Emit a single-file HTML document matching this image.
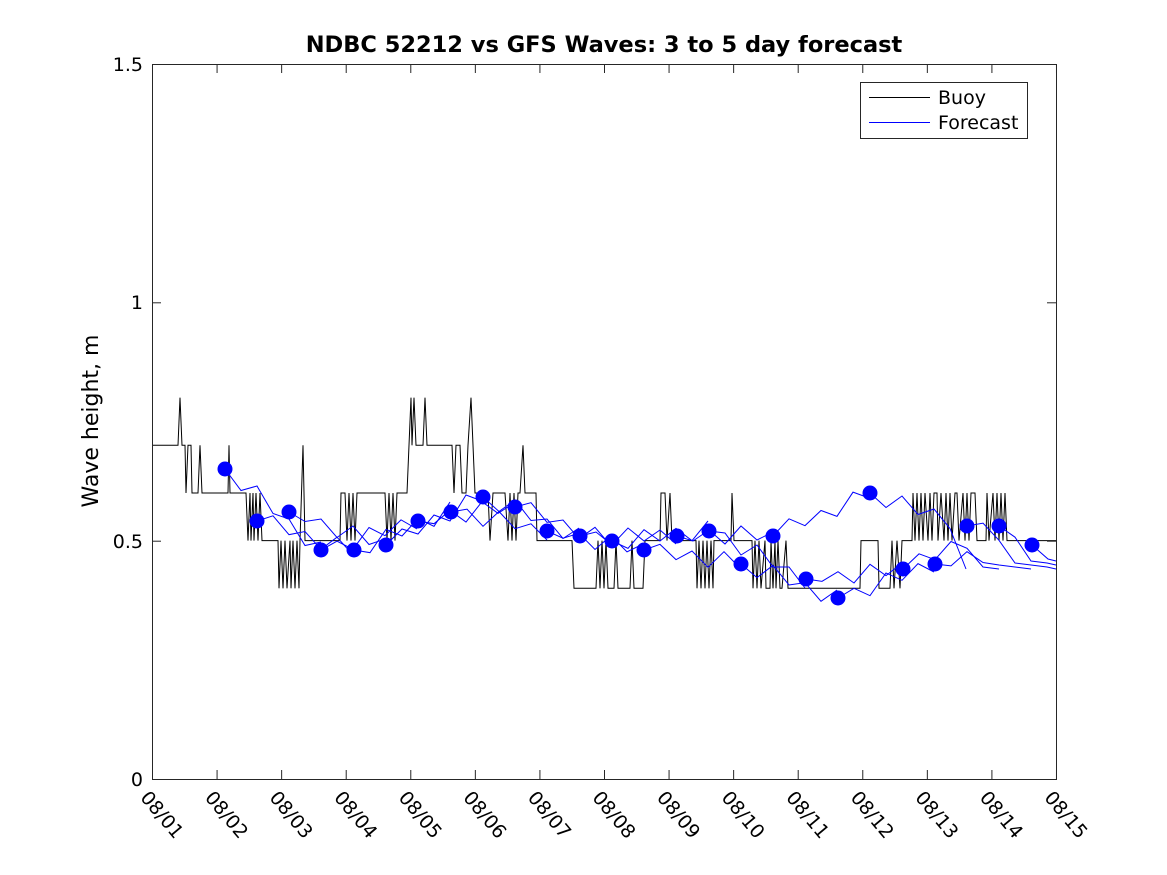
<!DOCTYPE html>
<html><head><meta charset="utf-8"><style>
html,body{margin:0;padding:0;background:#fff}
svg{display:block;font-family:"DejaVu Sans","Liberation Sans",sans-serif}
</style></head><body>
<svg id="s" width="1167" height="875" viewBox="0 0 1167 875" xmlns="http://www.w3.org/2000/svg">
<rect width="1167" height="875" fill="#fff"/>
<text x="604" y="52" font-size="22.5" font-weight="bold" text-anchor="middle">NDBC 52212 vs GFS Waves: 3 to 5 day forecast</text>
<text transform="translate(98,421) rotate(-90)" font-size="22" text-anchor="middle">Wave height, m</text>
<g font-size="19" text-anchor="end">
<text x="143" y="786">0</text><text x="143" y="548">0.5</text><text x="143" y="309">1</text><text x="143" y="71">1.5</text>
</g>
<g id="xl" font-size="19"></g>
<g id="data"></g>
<rect x="152.5" y="64.5" width="904" height="715" fill="none" stroke="#262626" stroke-width="1"/>
<g id="ticks" stroke="#262626" stroke-width="1"></g>
<rect x="860.5" y="82.5" width="167" height="56" fill="#fff" stroke="#262626"/>
<line x1="869" y1="97.5" x2="930" y2="97.5" stroke="#000"/>
<line x1="869" y1="122.5" x2="930" y2="122.5" stroke="#0000ff"/>
<text x="938" y="104" font-size="19">Buoy</text>
<text x="938" y="129" font-size="19">Forecast</text>
</svg>
<script>
var NS="http://www.w3.org/2000/svg";
function el(t,a,p){var e=document.createElementNS(NS,t);for(var k in a)e.setAttribute(k,a[k]);p.appendChild(e);return e;}
var tk=document.getElementById('ticks'),xl=document.getElementById('xl'),dg=document.getElementById('data');
for(var d=0;d<=14;d++){var x=152.5+d*64.57;
 el('line',{x1:x,y1:779,x2:x,y2:770},tk);el('line',{x1:x,y1:64,x2:x,y2:73},tk);
 var t=el('text',{transform:'translate('+(x-13)+',798) rotate(50)'},xl);t.textContent='08/'+(d+1<10?'0':'')+(d+1);}
[779,540.7,302.3,64].forEach(function(y){el('line',{x1:152,y1:y+.5,x2:161,y2:y+.5},tk);el('line',{x1:1056,y1:y+.5,x2:1047,y2:y+.5},tk);});
function Y(v){return 779-v*476.7;}
var b=[[152,.7],[178,.7],[180,.8],[182,.7],[185,.7],[186,.6],[188,.7],[191,.7],[192,.6],[198,.6],[200,.7],[202,.6],[228,.6],[229,.7],[230,.6],[246,.6],[248,.5],[250,.6],[251,.5],[253,.6],[254,.5],[256,.6],[258,.5],[260,.6],[262,.5],[278,.5],[279,.4],[281,.5],[283,.4],[285,.5],[287,.4],[290,.5],[291,.4],[293,.5],[295,.4],[297,.5],[299,.4],[300,.5],[303,.7],[305,.5],[340,.5],[341,.6],[345,.6],[347,.5],[349,.6],[351,.5],[353,.6],[355,.5],[357,.6],[385,.6],[387,.5],[389,.6],[391,.5],[393,.6],[395,.5],[397,.6],[407,.6],[409,.7],[411,.8],[412,.7],[414,.8],[416,.7],[423,.7],[425,.8],[427,.7],[452,.7],[454,.6],[456,.7],[460,.7],[462,.6],[466,.6],[468,.7],[471,.8],[473,.7],[475,.6],[488,.6],[490,.5],[493,.6],[505,.6],[508,.5],[510,.6],[512,.5],[514,.6],[516,.5],[518,.6],[520,.6],[523,.7],[525,.6],[536,.6],[537,.5],[572,.5],[574,.4],[596,.4],[598,.5],[600,.4],[602,.5],[604,.4],[606,.5],[608,.4],[614,.4],[616,.5],[618,.4],[630,.4],[632,.5],[634,.4],[643,.4],[645,.5],[660,.5],[661,.6],[665,.6],[667,.5],[670,.6],[672,.5],[696,.5],[697,.4],[699,.5],[701,.4],[703,.5],[705,.4],[707,.5],[709,.4],[711,.5],[713,.4],[714,.5],[731,.5],[732,.6],[734,.5],[752,.5],[753,.4],[755,.5],[757,.4],[759,.5],[761,.4],[765,.5],[766,.4],[770,.4],[771,.5],[773,.4],[775,.5],[776,.4],[778,.5],[780,.4],[782,.4],[786,.5],[788,.4],[860,.4],[861,.5],[878,.5],[879,.4],[890,.4],[892,.5],[894,.4],[897,.5],[900,.4],[902,.5],[912,.5],[913,.6],[915,.5],[917,.6],[919,.5],[921,.6],[923,.5],[925,.6],[928,.5],[930,.6],[932,.5],[934,.6],[937,.6],[938,.5],[941,.6],[944,.5],[946,.6],[948,.5],[950,.6],[952,.5],[955,.6],[957,.6],[959,.5],[963,.6],[965,.5],[967,.6],[969,.5],[971,.6],[975,.6],[977,.5],[986,.5],[987,.6],[989,.5],[993,.6],[995,.5],[997,.6],[999,.5],[1001,.6],[1003,.5],[1005,.6],[1007,.5],[1056,.5]];
el('polyline',{points:b.map(function(p){return p[0]+','+Y(p[1]).toFixed(1)}).join(' '),fill:'none',stroke:'#000','stroke-width':1},dg);
var dots=[[225,469],[257,521],[289,512],[321,550],[354,550],[386,545],[418,521],[451,512],[483,497],[515,507],[547,531],[580,536],[612,541],[644,550],[677,536],[709,531],[741,564],[773,536],[806,579],[838,598],[870,493],[903,569],[935,564],[967,526],[999,526],[1032,545]];
var offs=[-6,8,-10,4,-4,9,-8,5];
for(var i=0;i<dots.length;i++){var pts=[dots[i]];
 for(var j=1;j<=6;j++){var k=i+j;var lx=dots[i][0]+j*16;if(lx>1056)lx=1056;
  if(k>=dots.length){pts.push([lx,dots[dots.length-1][1]+12+j*2]);if(lx>=1056)break;continue;}
  pts.push([lx,(dots[i][1]*(6-j)+dots[Math.min(i+3,dots.length-1)][1]*j)/6+offs[(i+j)%8]]);if(lx>=1056)break;}
 el('polyline',{points:pts.map(function(p){return p[0]+','+p[1]}).join(' '),fill:'none',stroke:'#0000ff','stroke-width':1},dg);}
dots.forEach(function(p){el('circle',{cx:p[0],cy:p[1],r:7.5,fill:'#0000ff'},dg);});
</script>
</body></html>
